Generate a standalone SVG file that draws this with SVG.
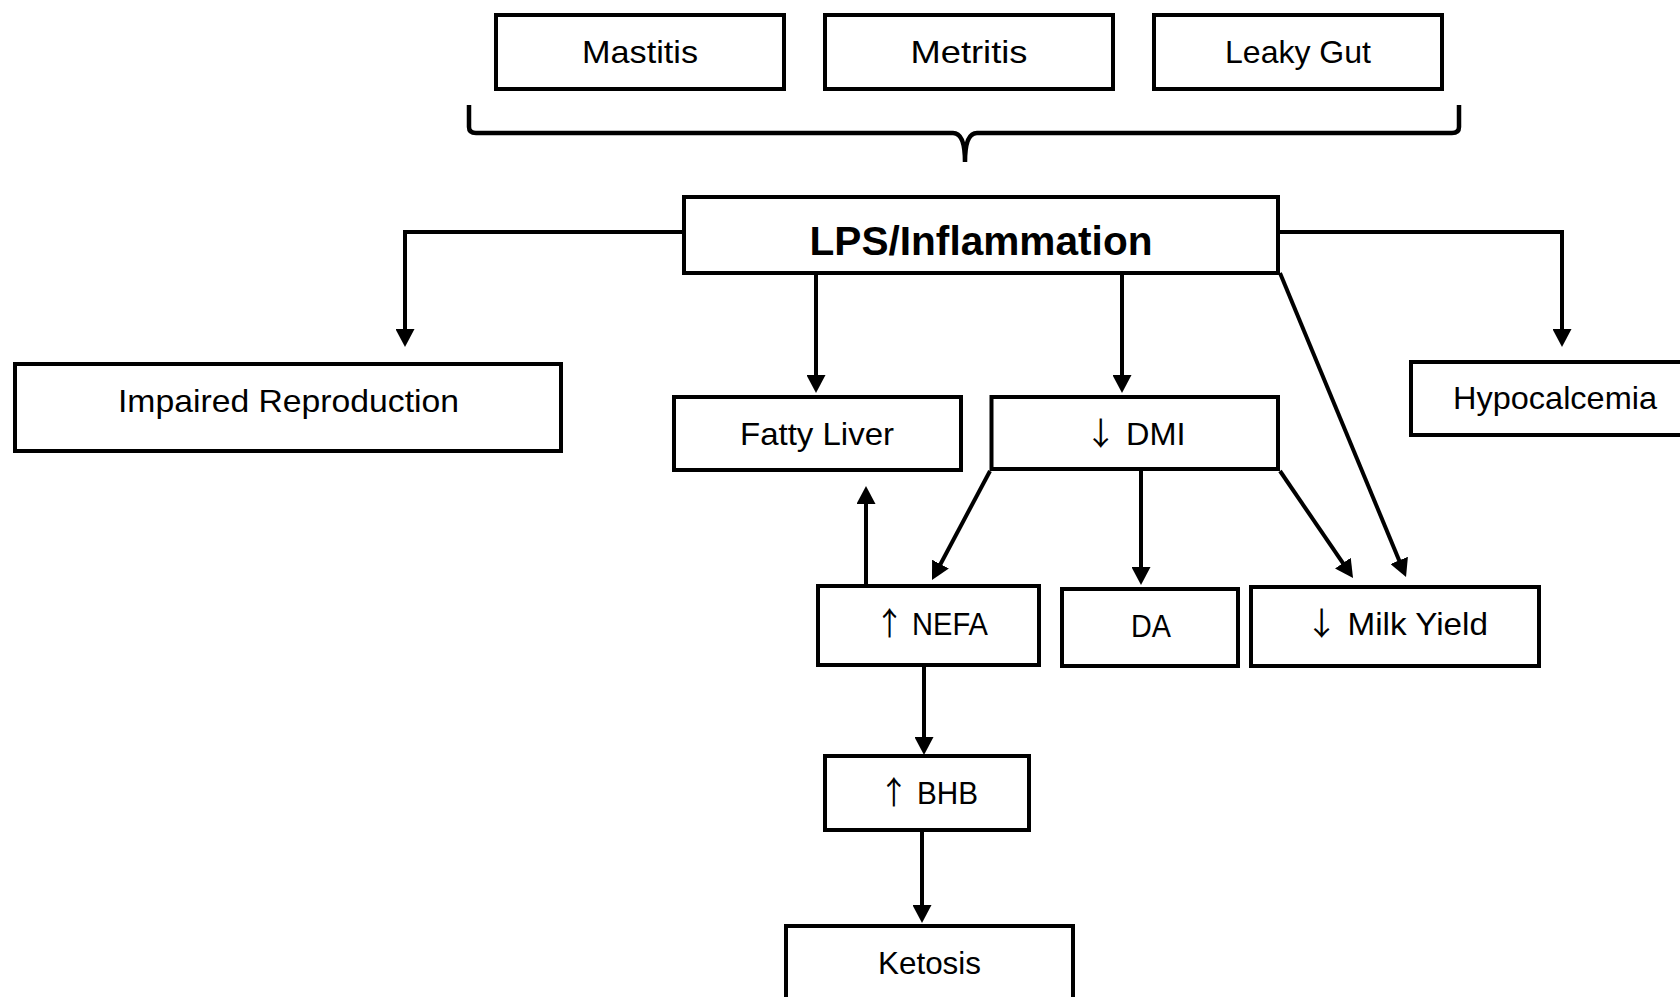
<svg xmlns="http://www.w3.org/2000/svg" width="1680" height="997" viewBox="0 0 1680 997">
<style>
.box{fill:#fff;stroke:#000;stroke-width:4}
.lbl{font-family:"Liberation Sans",Arial,"DejaVu Sans",sans-serif;font-size:32px;fill:#000;text-anchor:middle}
.bold{font-weight:bold;font-size:41px}
.arr{font-family:"Noto Sans CJK JP","Noto Sans CJK SC","DejaVu Sans",sans-serif}
.con{fill:none;stroke:#000;stroke-width:4;marker-end:url(#ah)}
.brace{fill:none;stroke:#000;stroke-width:4.5}
</style>
<defs>
<marker id="ah" markerUnits="userSpaceOnUse" viewBox="0 0 18 19" refX="8" refY="9.5" markerWidth="18" markerHeight="19" orient="auto">
<path d="M0,0 L18,9.5 L0,19 z" fill="#000"/>
</marker>
</defs>
<rect width="1680" height="997" fill="#fff"/>

<g id="mastitis"><rect class="box" x="496" y="15" width="288" height="74"/><text class="lbl" x="640" y="63" textLength="116" lengthAdjust="spacingAndGlyphs">Mastitis</text></g>
<g id="metritis"><rect class="box" x="825" y="15" width="288" height="74"/><text class="lbl" x="969" y="63" textLength="117" lengthAdjust="spacingAndGlyphs">Metritis</text></g>
<g id="leaky-gut"><rect class="box" x="1154" y="15" width="288" height="74"/><text class="lbl" x="1298" y="63" textLength="146" lengthAdjust="spacingAndGlyphs">Leaky Gut</text></g>

<g id="brace"><path class="brace" d="M469,105 L469,127 Q469,133 476,133 L953,133 Q965,133 965,162 Q965,133 977,133 L1452,133 Q1459,133 1459,127 L1459,105"/></g>

<g id="lps"><rect class="box" x="684" y="197" width="594" height="76" stroke-width="4.5"/><text class="lbl bold" x="981" y="255" textLength="343" lengthAdjust="spacingAndGlyphs">LPS/Inflammation</text></g>

<g id="impaired-reproduction"><rect class="box" x="15" y="364" width="546" height="87"/><text class="lbl" x="288.5" y="412" textLength="341" lengthAdjust="spacingAndGlyphs">Impaired Reproduction</text></g>
<g id="fatty-liver"><rect class="box" x="674" y="397" width="287" height="73"/><text class="lbl" x="817" y="445" textLength="154" lengthAdjust="spacingAndGlyphs">Fatty Liver</text></g>
<g id="dmi"><rect class="box" x="991.5" y="397" width="286.5" height="72"/><text class="lbl" x="1135" y="445" textLength="101" lengthAdjust="spacingAndGlyphs"><tspan class="arr">↓</tspan> DMI</text></g>
<g id="hypocalcemia"><rect class="box" x="1411" y="362" width="300" height="73"/><text class="lbl" x="1555" y="409" textLength="204" lengthAdjust="spacingAndGlyphs">Hypocalcemia</text></g>
<g id="nefa"><rect class="box" x="818" y="586" width="221" height="79"/><text class="lbl" x="931.5" y="635" textLength="113" lengthAdjust="spacingAndGlyphs"><tspan class="arr">↑</tspan> NEFA</text></g>
<g id="da"><rect class="box" x="1062" y="589" width="176" height="77"/><text class="lbl" x="1151" y="637" textLength="40" lengthAdjust="spacingAndGlyphs">DA</text></g>
<g id="milk-yield"><rect class="box" x="1251" y="587" width="288" height="79"/><text class="lbl" x="1396.5" y="635" textLength="183" lengthAdjust="spacingAndGlyphs"><tspan class="arr">↓</tspan> Milk Yield</text></g>
<g id="bhb"><rect class="box" x="825" y="756" width="204" height="74"/><text class="lbl" x="928.5" y="804" textLength="99" lengthAdjust="spacingAndGlyphs"><tspan class="arr">↑</tspan> BHB</text></g>
<g id="ketosis"><rect class="box" x="786" y="926" width="287" height="100"/><text class="lbl" x="929.5" y="974" textLength="103" lengthAdjust="spacingAndGlyphs">Ketosis</text></g>

<g id="connectors">
<path class="con" d="M682,232 L405,232 L405,337"/>
<path class="con" d="M1280,232 L1562,232 L1562,337"/>
<path class="con" d="M816,275 L816,383"/>
<path class="con" d="M1122,275 L1122,383"/>
<path class="con" d="M1280,273 L1402.2,567.8"/>
<path class="con" d="M990,471 L936.7,571.2"/>
<path class="con" d="M1141,471 L1141,575"/>
<path class="con" d="M1280,471 L1347.4,569.7"/>
<path class="con" d="M866,584 L866,496"/>
<path class="con" d="M924,667 L924,745"/>
<path class="con" d="M922,832 L922,913"/>
</g>
</svg>
